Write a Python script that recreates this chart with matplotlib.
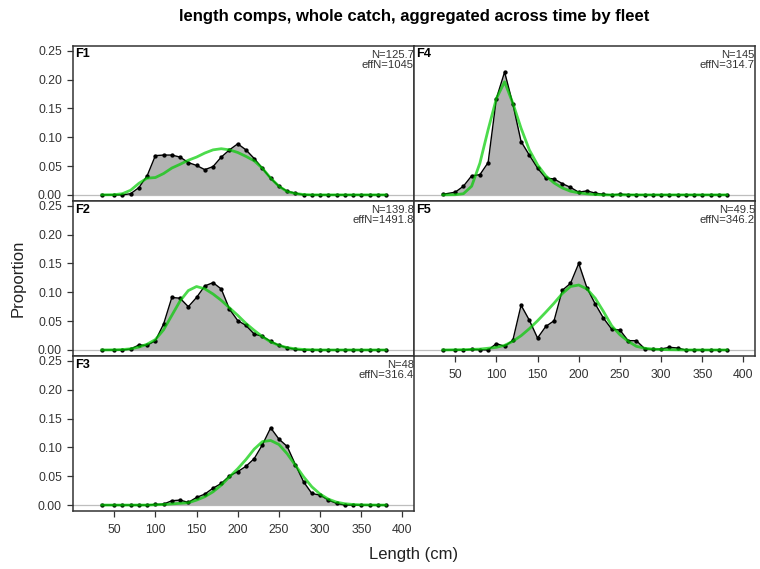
#!/usr/bin/env python3
"""Length comps aggregated across time, one panel per fleet (obs vs expected)."""

import matplotlib
matplotlib.use("Agg")
import matplotlib.pyplot as plt

plt.rcParams["font.family"] = ["Liberation Sans", "DejaVu Sans"]

# length bins (cm): first bin at 35, then 50..380 by 10
lengths = [35] + list(range(50, 390, 10))

fleets = ["F1", "F2", "F3", "F4", "F5"]
n_samp = ["N=125.7", "N=139.8", "N=48", "N=145", "N=49.5"]
eff_n = ["effN=1045", "effN=1491.8", "effN=316.4", "effN=314.7", "effN=346.2"]

obs_f1 = [0, 0, 0, 0.002, 0.0126, 0.033, 0.068, 0.069, 0.069, 0.0655,
          0.056, 0.051, 0.0437, 0.049, 0.0655, 0.078, 0.0885, 0.078, 0.063, 0.046,
          0.0287, 0.015, 0.0063, 0.003, 0, 0, 0, 0, 0, 0,
          0, 0, 0, 0, 0]
obs_f2 = [0, 0, 0, 0.0017, 0.0086, 0.008, 0.016, 0.045, 0.091, 0.0897,
          0.075, 0.091, 0.111, 0.1167, 0.1057, 0.0707, 0.051, 0.0425, 0.0276, 0.0236,
          0.015, 0.008, 0.004, 0.001, 0, 0, 0, 0, 0, 0,
          0, 0, 0, 0, 0]
obs_f3 = [0, 0, 0, 0, 0, 0, 0.001, 0.0017, 0.0075, 0.0086,
          0.0046, 0.0132, 0.019, 0.0293, 0.0374, 0.0506, 0.058, 0.0672, 0.0805, 0.1046,
          0.1339, 0.1144, 0.1017, 0.0701, 0.0402, 0.0201, 0.0172, 0.0086, 0.0029, 0,
          0, 0, 0, 0, 0]
obs_f4 = [0.001, 0.0046, 0.015, 0.033, 0.035, 0.056, 0.167, 0.213, 0.1575, 0.0925,
          0.069, 0.0465, 0.029, 0.0276, 0.0195, 0.013, 0.0046, 0.0069, 0.003, 0.001,
          0, 0.001, 0.0005, 0, 0, 0, 0, 0, 0, 0,
          0, 0, 0, 0, 0]
obs_f5 = [0, 0, 0, 0.001, 0.0005, 0, 0.011, 0.0063, 0.0167, 0.0776,
          0.0517, 0.0207, 0.0408, 0.0506, 0.1034, 0.1155, 0.15, 0.1075, 0.0799, 0.0552,
          0.0362, 0.0345, 0.0161, 0.0161, 0.0023, 0.001, 0.0017, 0.0046, 0.0034, 0,
          0, 0, 0, 0, 0]

# expected (model fit) proportions
exp_f1 = [0, 0.0003, 0.002, 0.008, 0.02, 0.029, 0.030, 0.037, 0.0465, 0.053,
          0.06, 0.0655, 0.0725, 0.078, 0.080, 0.078, 0.0735, 0.0667, 0.059, 0.046,
          0.029, 0.015, 0.0057, 0.0023, 0.0006, 0, 0, 0, 0, 0,
          0, 0, 0, 0, 0]
exp_f2 = [0, 0.0002, 0.0007, 0.002, 0.005, 0.01, 0.018, 0.035, 0.06, 0.085,
          0.103, 0.11, 0.106, 0.097, 0.086, 0.073, 0.06, 0.046, 0.034, 0.023,
          0.014, 0.008, 0.004, 0.002, 0.0008, 0.0003, 0, 0, 0, 0,
          0, 0, 0, 0, 0]
exp_f3 = [0, 0, 0, 0, 0, 0, 0.0005, 0.001, 0.002, 0.003,
          0.004, 0.0086, 0.0144, 0.023, 0.0345, 0.049, 0.063, 0.079, 0.097, 0.11,
          0.112, 0.105, 0.089, 0.069, 0.049, 0.0316, 0.019, 0.0103, 0.005, 0.0023,
          0.001, 0.0004, 0.0002, 0, 0]
exp_f4 = [0, 0.0002, 0.002, 0.015, 0.055, 0.113, 0.167, 0.196, 0.159, 0.1155,
          0.078, 0.052, 0.033, 0.0207, 0.012, 0.0063, 0.0035, 0.0017, 0.0006, 0,
          0, 0, 0, 0, 0, 0, 0, 0, 0, 0,
          0, 0, 0, 0, 0]
exp_f5 = [0, 0.0003, 0.0005, 0.001, 0.0015, 0.003, 0.0046, 0.008, 0.015, 0.0247,
          0.0368, 0.0506, 0.0655, 0.081, 0.0977, 0.11, 0.1126, 0.1057, 0.0897, 0.0667,
          0.042, 0.0264, 0.015, 0.0063, 0.003, 0.0015, 0.0008, 0.0004, 0.0002, 0,
          0, 0, 0, 0, 0]

obs_all = [obs_f1, obs_f2, obs_f3, obs_f4, obs_f5]
exp_all = [exp_f1, exp_f2, exp_f3, exp_f4, exp_f5]

W, H = 760, 569
fig = plt.figure(figsize=(W / 100, H / 100), dpi=100)

# panel grid in pixels: two columns, three rows, filled column-wise
x_left, x_mid, x_right = 73, 414, 755
y_top, y_bot = 45.7, 511
row_h = (y_bot - y_top) / 3
# (column, row) for each fleet
cells = [(0, 0), (0, 1), (0, 2), (1, 0), (1, 1)]
bottom_of_col = {0: 2, 1: 1}

line_green = (0, 0.8, 0, 0.7)
axis_gray = "#333333"

for i, fleet in enumerate(fleets):
    col, row = cells[i]
    x0 = x_left if col == 0 else x_mid
    x1 = x_mid if col == 0 else x_right
    top = y_top + row * row_h
    ax = fig.add_axes([x0 / W, 1 - (top + row_h) / H, (x1 - x0) / W, row_h / H])

    ax.axhline(0, color="#bebebe", lw=0.9, zorder=1)
    ax.fill_between(lengths, 0, obs_all[i], color="#b3b3b3", lw=0, zorder=2)
    ax.plot(lengths, obs_all[i], "-o", color="black", lw=1, ms=2.1, zorder=3)
    ax.plot(lengths, exp_all[i], color=line_green, lw=2, zorder=4)

    ax.set_xlim(0, 414)
    ax.set_ylim(-0.0103, 0.2586)
    ax.set_xticks(range(50, 401, 50))
    ax.set_yticks([0, 0.05, 0.10, 0.15, 0.20, 0.25])
    ax.set_yticklabels(["0.00", "0.05", "0.10", "0.15", "0.20", "0.25"])
    ax.tick_params(direction="out", length=4.5, width=0.9, colors=axis_gray,
                   labelsize=8.8, labelcolor="#333333")
    ax.tick_params(axis="x", pad=5)

    if col != 0:
        ax.tick_params(axis="y", left=False, labelleft=False)
    if row != bottom_of_col[col]:
        ax.tick_params(axis="x", bottom=False, labelbottom=False)

    for sp in ax.spines.values():
        sp.set_color(axis_gray)
        sp.set_linewidth(1.1)

    ax.text(0.006, 0.982, fleet, transform=ax.transAxes, ha="left", va="top",
            fontsize=9.2, fontweight="bold", color="black")
    ax.text(1.0, 0.975, n_samp[i] + "\n" + eff_n[i], transform=ax.transAxes,
            ha="right", va="top", fontsize=8.1, color="#333333",
            linespacing=1.0, clip_on=False, zorder=6)

fig.text(414 / W, 1 - 16 / H,
         "length comps, whole catch, aggregated across time by fleet",
         ha="center", va="center", fontsize=12, fontweight="bold")
fig.text(414 / W, 1 - 554 / H, "Length (cm)", ha="center", va="center",
         fontsize=12, color="#222222")
fig.text(18 / W, 1 - 278 / H, "Proportion", ha="center", va="center",
         rotation=90, fontsize=12, color="#222222")

fig.savefig("out.png", dpi=100)
